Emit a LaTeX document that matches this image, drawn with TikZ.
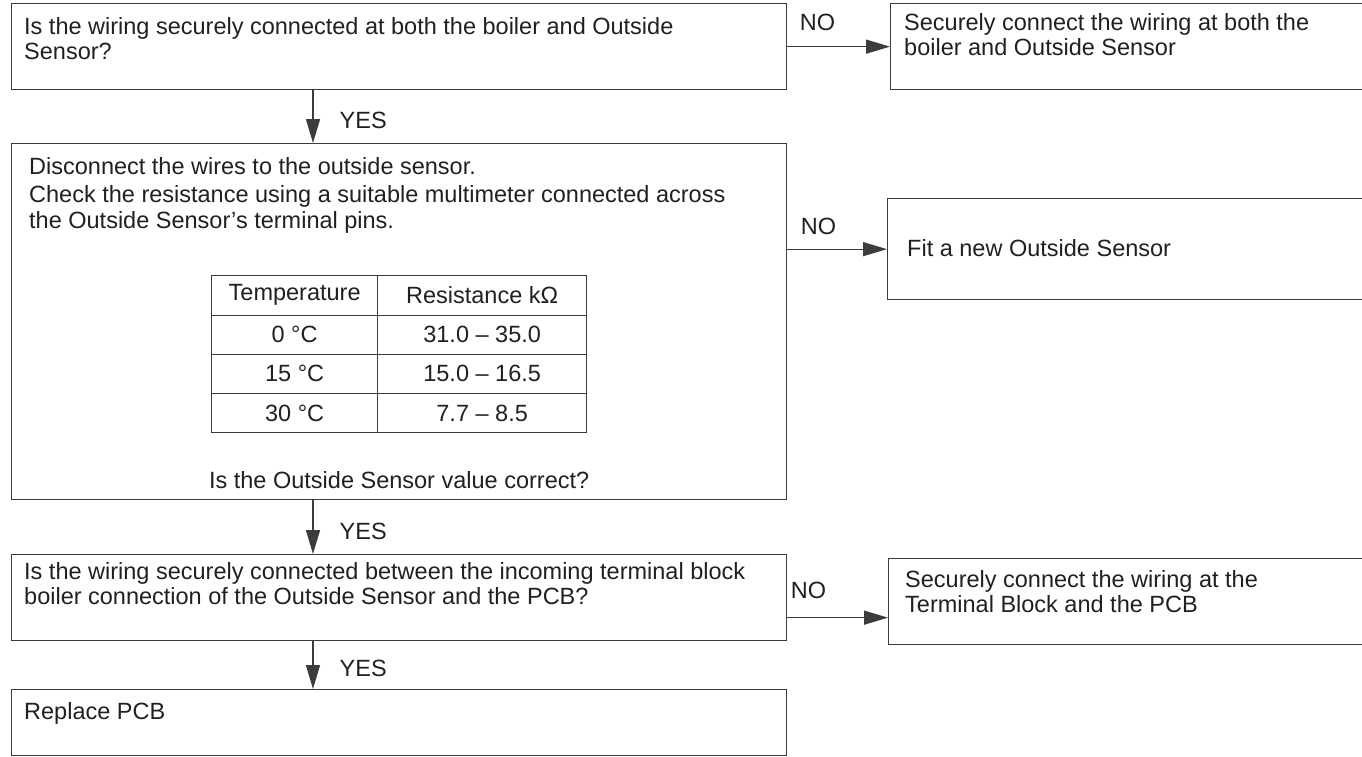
\documentclass[tikz,border=0pt]{standalone}
\usepackage{fontspec}
\setmainfont{Liberation Sans}
\usetikzlibrary{arrows.meta, positioning, matrix}
\definecolor{ink}{HTML}{231F20}
\definecolor{rule}{HTML}{3C3C3C}

\begin{document}
\begin{tikzpicture}[
        x=1pt, y=-1pt,
        font=\fontsize{23.5}{25.5}\selectfont,
        text=ink,
        box/.style={draw=rule, line width=1.3pt, anchor=north west, inner sep=0pt},
        txt/.style={align=left, inner sep=0pt},
        lbl/.style={inner sep=0pt},
        arrow/.style={-{Triangle[length=24pt, width=14pt]}, line width=1.3pt, draw=rule},
        tempgrid/.style={matrix of nodes, anchor=north, inner sep=0pt,
            column sep=-0.8pt, row sep=-0.8pt,
            nodes={draw=rule, line width=0.8pt, minimum height=39.3pt, inner sep=0pt, anchor=center},
            column 1/.style={nodes={minimum width=166pt}},
            column 2/.style={nodes={minimum width=209pt}}}
    ]
    \useasboundingbox (0,0) rectangle (1362,756);
    % left column
    \node[box, minimum width=775pt, minimum height=86pt] (wire) at (11,3) {};
    \node[txt, below right=14pt and 13pt of wire.north west] (wiretxt) {Is the wiring securely connected at both the boiler and Outside\\Sensor?};
    \node[box, minimum width=775pt, minimum height=356pt] (check) at (11,143) {};
    \node[txt, below right=14pt and 18pt of check.north west] (checktxt) {Disconnect the wires to the outside sensor.\\[3pt]Check the resistance using a suitable multimeter connected across\\the Outside Sensor’s terminal pins.};
    \matrix[tempgrid, below=132pt of check.north] (temps) {
        Temperature & Resistance kΩ \\
        0 °C & 31.0 – 35.0 \\
        15 °C & 15.0 – 16.5 \\
        30 °C & 7.7 – 8.5 \\
    };
    \node[lbl, above=11pt of check.south] (valid) {Is the Outside Sensor value correct?};
    \node[box, minimum width=775pt, minimum height=86pt] (conn) at (11,554) {};
    \node[txt, below right=8pt and 13pt of conn.north west] (conntxt) {Is the wiring securely connected between the incoming terminal block\\boiler connection of the Outside Sensor and the PCB?};
    \node[box, minimum width=775pt, minimum height=66pt] (pcb) at (11,689) {};
    \node[txt, below right=13pt and 13pt of pcb.north west] (pcbtxt) {Replace PCB};
    % right column
    \node[box, minimum width=485pt, minimum height=86pt] (secure) at (890,3) {};
    \node[txt, below right=10pt and 14pt of secure.north west] (securetxt) {Securely connect the wiring at both the\\boiler and Outside Sensor};
    \node[box, minimum width=488pt, minimum height=101pt] (fit) at (887,198) {};
    \node[txt, below right=41pt and 20pt of fit.north west] (fittxt) {Fit a new Outside Sensor};
    \node[box, minimum width=487pt, minimum height=86pt] (term) at (888,558) {};
    \node[txt, below right=12pt and 17pt of term.north west] (termtxt) {Securely connect the wiring at the\\Terminal Block and the PCB};
    \coordinate (termin) at ([yshift=-16pt]term.west);
    % connectors
    \draw[arrow] (wire) -- (secure) node[lbl, pos=0, above right=15pt and 12pt] {NO};
    \draw[arrow] (check.east |- fit.west) -- (fit.west) node[lbl, pos=0, above right=14pt and 13pt] {NO};
    \draw[arrow] (conn.east |- termin) -- (termin) node[lbl, pos=0, above right=18pt and 3pt] {NO};
    \draw[arrow] ([xshift=302pt]wire.south west) -- ([xshift=302pt]check.north west) node[lbl, pos=0.57, right=26pt] {YES};
    \draw[arrow] ([xshift=302pt]check.south west) -- ([xshift=302pt]conn.north west) node[lbl, pos=0.57, right=26pt] {YES};
    \draw[arrow] ([xshift=302pt]conn.south west) -- ([xshift=302pt]pcb.north west) node[lbl, pos=0.57, right=26pt] {YES};
\end{tikzpicture}
\end{document}
